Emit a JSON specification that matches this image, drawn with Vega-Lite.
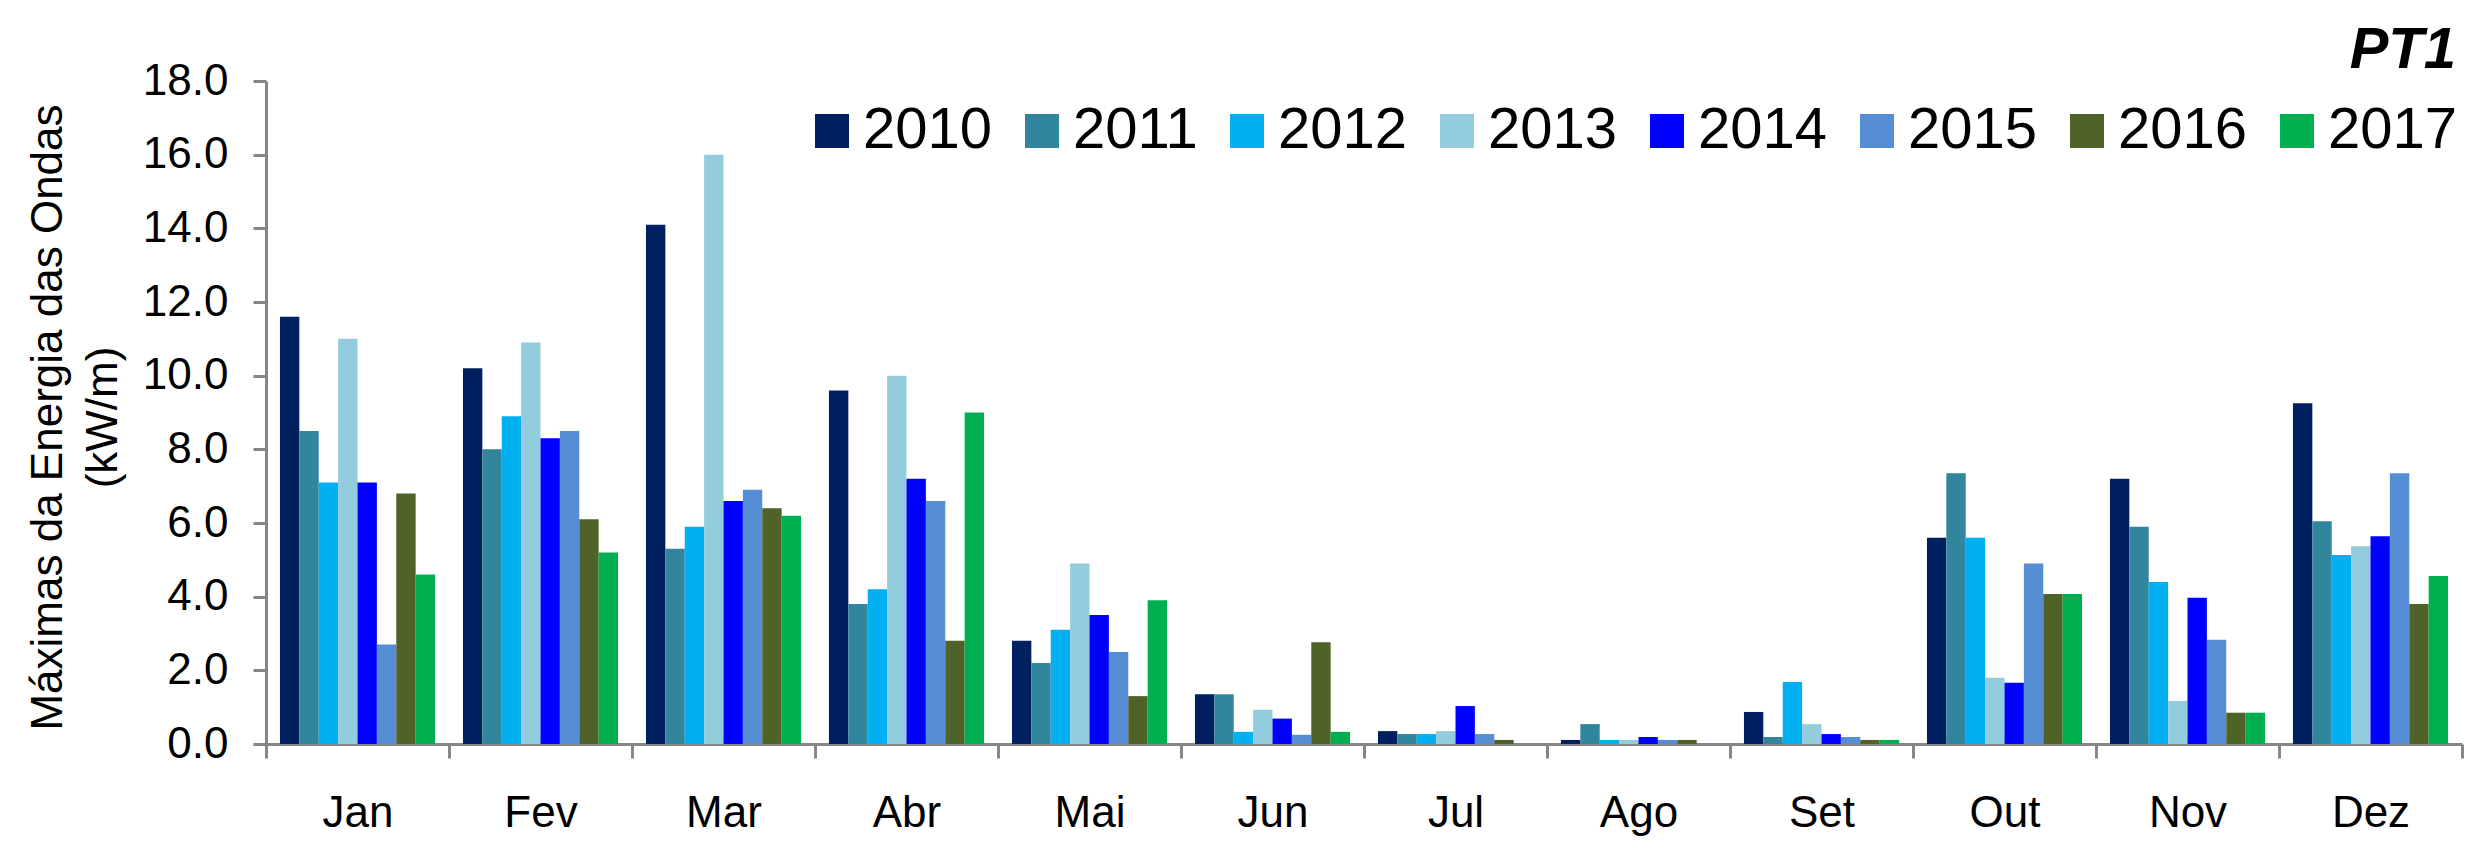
{
  "$schema": "https://vega.github.io/schema/vega-lite/v6.json",
  "width": 2196,
  "height": 663,
  "autosize": "none",
  "padding": {"left": 266, "top": 81, "right": 27, "bottom": 106},
  "background": "white",
  "config": {
    "view": {"stroke": null},
    "font": "Liberation Sans"
  },
  "title": {
    "text": "PT1",
    "anchor": "end",
    "frame": "group",
    "fontSize": 58,
    "fontStyle": "italic",
    "fontWeight": "bold",
    "color": "black",
    "baseline": "alphabetic",
    "offset": 0,
    "dx": -6,
    "dy": 67
  },
  "data": {
    "values": [
      {"mes": "Jan", "ano": "2010", "valor": 11.6},
      {"mes": "Jan", "ano": "2011", "valor": 8.5},
      {"mes": "Jan", "ano": "2012", "valor": 7.1},
      {"mes": "Jan", "ano": "2013", "valor": 11.0},
      {"mes": "Jan", "ano": "2014", "valor": 7.1},
      {"mes": "Jan", "ano": "2015", "valor": 2.7},
      {"mes": "Jan", "ano": "2016", "valor": 6.8},
      {"mes": "Jan", "ano": "2017", "valor": 4.6},
      {"mes": "Fev", "ano": "2010", "valor": 10.2},
      {"mes": "Fev", "ano": "2011", "valor": 8.0},
      {"mes": "Fev", "ano": "2012", "valor": 8.9},
      {"mes": "Fev", "ano": "2013", "valor": 10.9},
      {"mes": "Fev", "ano": "2014", "valor": 8.3},
      {"mes": "Fev", "ano": "2015", "valor": 8.5},
      {"mes": "Fev", "ano": "2016", "valor": 6.1},
      {"mes": "Fev", "ano": "2017", "valor": 5.2},
      {"mes": "Mar", "ano": "2010", "valor": 14.1},
      {"mes": "Mar", "ano": "2011", "valor": 5.3},
      {"mes": "Mar", "ano": "2012", "valor": 5.9},
      {"mes": "Mar", "ano": "2013", "valor": 16.0},
      {"mes": "Mar", "ano": "2014", "valor": 6.6},
      {"mes": "Mar", "ano": "2015", "valor": 6.9},
      {"mes": "Mar", "ano": "2016", "valor": 6.4},
      {"mes": "Mar", "ano": "2017", "valor": 6.2},
      {"mes": "Abr", "ano": "2010", "valor": 9.6},
      {"mes": "Abr", "ano": "2011", "valor": 3.8},
      {"mes": "Abr", "ano": "2012", "valor": 4.2},
      {"mes": "Abr", "ano": "2013", "valor": 10.0},
      {"mes": "Abr", "ano": "2014", "valor": 7.2},
      {"mes": "Abr", "ano": "2015", "valor": 6.6},
      {"mes": "Abr", "ano": "2016", "valor": 2.8},
      {"mes": "Abr", "ano": "2017", "valor": 9.0},
      {"mes": "Mai", "ano": "2010", "valor": 2.8},
      {"mes": "Mai", "ano": "2011", "valor": 2.2},
      {"mes": "Mai", "ano": "2012", "valor": 3.1},
      {"mes": "Mai", "ano": "2013", "valor": 4.9},
      {"mes": "Mai", "ano": "2014", "valor": 3.5},
      {"mes": "Mai", "ano": "2015", "valor": 2.5},
      {"mes": "Mai", "ano": "2016", "valor": 1.3},
      {"mes": "Mai", "ano": "2017", "valor": 3.9},
      {"mes": "Jun", "ano": "2010", "valor": 1.35},
      {"mes": "Jun", "ano": "2011", "valor": 1.35},
      {"mes": "Jun", "ano": "2012", "valor": 0.33},
      {"mes": "Jun", "ano": "2013", "valor": 0.93},
      {"mes": "Jun", "ano": "2014", "valor": 0.69},
      {"mes": "Jun", "ano": "2015", "valor": 0.25},
      {"mes": "Jun", "ano": "2016", "valor": 2.76},
      {"mes": "Jun", "ano": "2017", "valor": 0.33},
      {"mes": "Jul", "ano": "2010", "valor": 0.35},
      {"mes": "Jul", "ano": "2011", "valor": 0.27},
      {"mes": "Jul", "ano": "2012", "valor": 0.27},
      {"mes": "Jul", "ano": "2013", "valor": 0.35},
      {"mes": "Jul", "ano": "2014", "valor": 1.03},
      {"mes": "Jul", "ano": "2015", "valor": 0.27},
      {"mes": "Jul", "ano": "2016", "valor": 0.11},
      {"mes": "Jul", "ano": "2017", "valor": 0},
      {"mes": "Ago", "ano": "2010", "valor": 0.11},
      {"mes": "Ago", "ano": "2011", "valor": 0.54},
      {"mes": "Ago", "ano": "2012", "valor": 0.11},
      {"mes": "Ago", "ano": "2013", "valor": 0.11},
      {"mes": "Ago", "ano": "2014", "valor": 0.19},
      {"mes": "Ago", "ano": "2015", "valor": 0.11},
      {"mes": "Ago", "ano": "2016", "valor": 0.11},
      {"mes": "Ago", "ano": "2017", "valor": 0},
      {"mes": "Set", "ano": "2010", "valor": 0.87},
      {"mes": "Set", "ano": "2011", "valor": 0.19},
      {"mes": "Set", "ano": "2012", "valor": 1.68},
      {"mes": "Set", "ano": "2013", "valor": 0.54},
      {"mes": "Set", "ano": "2014", "valor": 0.27},
      {"mes": "Set", "ano": "2015", "valor": 0.19},
      {"mes": "Set", "ano": "2016", "valor": 0.11},
      {"mes": "Set", "ano": "2017", "valor": 0.11},
      {"mes": "Out", "ano": "2010", "valor": 5.6},
      {"mes": "Out", "ano": "2011", "valor": 7.35},
      {"mes": "Out", "ano": "2012", "valor": 5.6},
      {"mes": "Out", "ano": "2013", "valor": 1.8},
      {"mes": "Out", "ano": "2014", "valor": 1.66},
      {"mes": "Out", "ano": "2015", "valor": 4.9},
      {"mes": "Out", "ano": "2016", "valor": 4.07},
      {"mes": "Out", "ano": "2017", "valor": 4.07},
      {"mes": "Nov", "ano": "2010", "valor": 7.2},
      {"mes": "Nov", "ano": "2011", "valor": 5.9},
      {"mes": "Nov", "ano": "2012", "valor": 4.4},
      {"mes": "Nov", "ano": "2013", "valor": 1.17},
      {"mes": "Nov", "ano": "2014", "valor": 3.97},
      {"mes": "Nov", "ano": "2015", "valor": 2.83},
      {"mes": "Nov", "ano": "2016", "valor": 0.85},
      {"mes": "Nov", "ano": "2017", "valor": 0.85},
      {"mes": "Dez", "ano": "2010", "valor": 9.25},
      {"mes": "Dez", "ano": "2011", "valor": 6.05},
      {"mes": "Dez", "ano": "2012", "valor": 5.13},
      {"mes": "Dez", "ano": "2013", "valor": 5.37},
      {"mes": "Dez", "ano": "2014", "valor": 5.64},
      {"mes": "Dez", "ano": "2015", "valor": 7.35},
      {"mes": "Dez", "ano": "2016", "valor": 3.8},
      {"mes": "Dez", "ano": "2017", "valor": 4.56}
    ]
  },
  "mark": {"type": "bar"},
  "encoding": {
    "x": {
      "field": "mes",
      "type": "nominal",
      "sort": ["Jan", "Fev", "Mar", "Abr", "Mai", "Jun", "Jul", "Ago", "Set", "Out", "Nov", "Dez"],
      "scale": {"paddingInner": 0, "paddingOuter": 0},
      "axis": {
        "title": null,
        "labelAngle": 0,
        "labelFontSize": 44,
        "labelColor": "black",
        "labelPadding": 33,
        "domainColor": "#868686",
        "domainWidth": 3,
        "tickColor": "#868686",
        "tickWidth": 3,
        "tickSize": 14,
        "tickBand": "extent",
        "grid": false
      }
    },
    "xOffset": {
      "field": "ano",
      "type": "nominal",
      "scale": {"paddingInner": 0, "paddingOuter": 0.72}
    },
    "y": {
      "field": "valor",
      "type": "quantitative",
      "scale": {"domain": [0, 18], "nice": false},
      "axis": {
        "title": ["Máximas da Energia das Ondas", "(kW/m)"],
        "titleFontSize": 44,
        "titleFontWeight": "normal",
        "titleColor": "black",
        "titleLineHeight": 55,
        "titleAngle": 270,
        "titleAlign": "center",
        "titleBaseline": "bottom",
        "titleX": -196,
        "titleY": 336,
        "values": [0, 2, 4, 6, 8, 10, 12, 14, 16, 18],
        "format": ".1f",
        "labelFontSize": 44,
        "labelColor": "black",
        "labelPadding": 25,
        "domainColor": "#868686",
        "domainWidth": 3,
        "tickColor": "#868686",
        "tickWidth": 3,
        "tickSize": 13,
        "grid": false
      }
    },
    "color": {
      "field": "ano",
      "type": "nominal",
      "scale": {
        "domain": ["2010", "2011", "2012", "2013", "2014", "2015", "2016", "2017"],
        "range": ["#002060", "#31859C", "#00B0F0", "#93CDDD", "#0000FF", "#558ED5", "#4F6228", "#00B050"]
      },
      "legend": {
        "title": null,
        "orient": "none",
        "legendX": 537,
        "legendY": 21,
        "direction": "horizontal",
        "columns": 8,
        "symbolType": "square",
        "symbolSize": 1156,
        "symbolStrokeWidth": 0,
        "symbolOpacity": 1,
        "labelFontSize": 58,
        "labelColor": "black",
        "labelOffset": 2,
        "columnPadding": 20,
        "padding": 0
      }
    }
  }
}
